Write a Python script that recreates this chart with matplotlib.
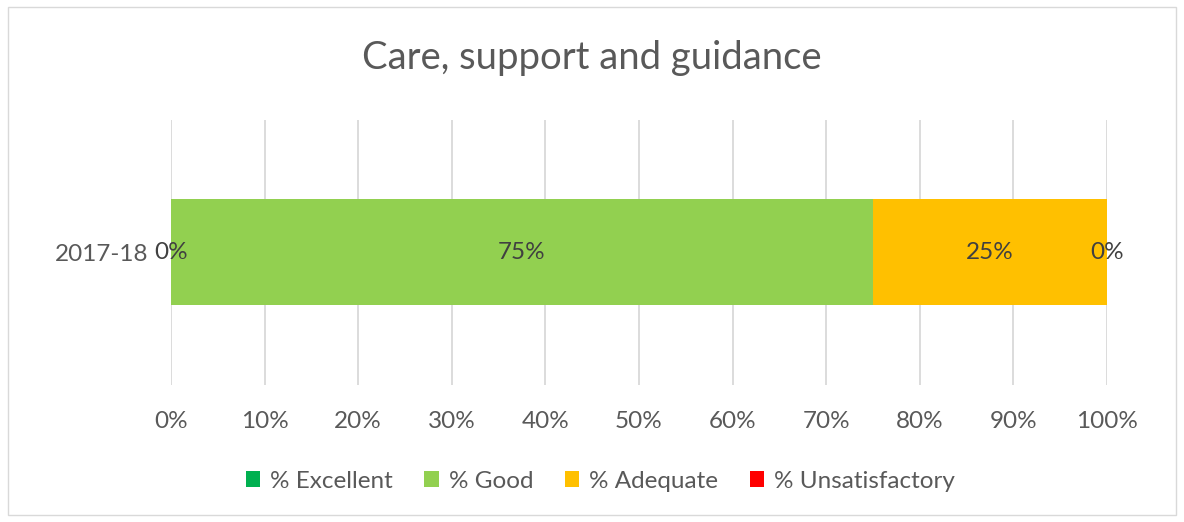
import matplotlib.pyplot as plt
from matplotlib.patches import Rectangle

categories = ['2017-18']
series_names = ['% Excellent', '% Good', '% Adequate', '% Unsatisfactory']
values = [0, 75, 25, 0]
colors = ['#00B050', '#92D050', '#FFC000', '#FF0000']
tick_values = list(range(0, 101, 10))
tick_labels = ['%d%%' % t for t in tick_values]

plt.rcParams['font.family'] = ['Lato', 'DejaVu Sans']
txt = '#595959'
fs = 17.5

fig = plt.figure(figsize=(11.84, 5.22), dpi=100)
ax = fig.add_axes([0.1444, 0.2625, 0.7905, 0.5077])

left = 0
handles = []
for name, v, c in zip(series_names, values, colors):
    b = ax.barh(categories, [v], left=[left], height=0.4, color=c, label=name, zorder=2)
    handles.append(b)
    ax.text(left + v / 2, 0, '%d%%' % v, ha='center', va='center', fontsize=fs, color='#404040', zorder=3)
    left += v

ax.set_xlim(0, 100)
ax.set_ylim(-0.5, 0.5)
ax.set_xticks(tick_values)
ax.set_xticklabels(tick_labels)
ax.tick_params(axis='x', length=0, labelsize=fs, labelcolor=txt, pad=19)
ax.tick_params(axis='y', length=0, labelsize=fs, labelcolor=txt, pad=16)
ax.grid(axis='x', color='#D9D9D9', linewidth=1.3, zorder=0)
for s in ax.spines.values():
    s.set_visible(False)

fig.text(0.5, 1 - 58 / 522, 'Care, support and guidance', ha='center', va='center', fontsize=27.5, color=txt)

fig.legend(handles=handles, loc='center', bbox_to_anchor=(0.507, 0.078), ncol=4, frameon=False,
           fontsize=fs, labelcolor=txt, handlelength=0.6, handleheight=0.6, handletextpad=0.4,
           columnspacing=1.3)

fig.patches.append(Rectangle((0.007, 0.014), 0.986, 0.972, transform=fig.transFigure,
                             fill=False, edgecolor='#D9D9D9', linewidth=1))

fig.savefig('out.png', dpi=100)
